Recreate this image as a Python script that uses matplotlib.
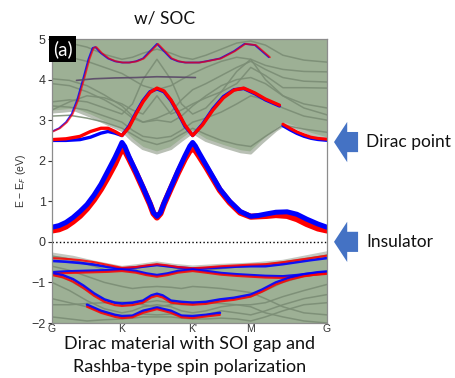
import matplotlib
matplotlib.use("Agg")
import matplotlib.pyplot as plt

# ---- high-symmetry path (positions along k) ----
kticks = [0.0, 1.0, 2.01, 2.84, 3.93]
klabels = ["G", "K", "K'", "M", "G"]

# ---- conduction pair (lowest red/blue band) ----
ck = [0, .1, .2, .3, .4, .5, .6, .7, .8, .9, .96, 1.0,
      1.04, 1.1, 1.2, 1.3, 1.4, 1.45, 1.5, 1.55, 1.6, 1.7, 1.8, 1.9, 1.97, 2.01,
      2.05, 2.1, 2.2, 2.3, 2.4, 2.54, 2.69, 2.84,
      2.95, 3.07, 3.2, 3.36, 3.5, 3.64, 3.8, 3.93]
cb_blue = [0.36, 0.40, 0.48, 0.60, 0.75, 0.92, 1.15, 1.42, 1.75, 2.08, 2.30, 2.45,
           2.35, 2.10, 1.73, 1.35, 0.95, 0.72, 0.63, 0.72, 0.95, 1.35, 1.75, 2.12, 2.36, 2.45,
           2.36, 2.20, 1.90, 1.60, 1.30, 1.00, 0.75, 0.63,
           0.65, 0.69, 0.73, 0.74, 0.68, 0.56, 0.44, 0.36]
cb_red = [0.28, 0.31, 0.38, 0.50, 0.64, 0.82, 1.04, 1.30, 1.60, 1.92, 2.15, 2.28,
          2.25, 2.05, 1.70, 1.32, 0.93, 0.70, 0.60, 0.70, 0.93, 1.32, 1.70, 2.05, 2.25, 2.30,
          2.25, 2.12, 1.85, 1.56, 1.27, 0.97, 0.72, 0.62,
          0.63, 0.64, 0.66, 0.64, 0.56, 0.44, 0.33, 0.28]

# ---- "Dirac" pair above the gap ----
dk = [0, .2, .4, .55, .7, .8, .9, 1.0, 1.1, 1.2, 1.3, 1.4, 1.5, 1.6, 1.7, 1.8, 1.9, 2.01,
      2.15, 2.3, 2.45, 2.6, 2.74, 2.9, 3.05, 3.25]
db_blue = [2.50, 2.50, 2.52, 2.58, 2.68, 2.72, 2.68, 2.62, 2.85, 3.18, 3.48, 3.70, 3.77,
           3.70, 3.48, 3.18, 2.85, 2.62, 2.90, 3.28, 3.58, 3.75, 3.78, 3.65, 3.50, 3.35]
db_red = [2.52, 2.54, 2.60, 2.72, 2.80, 2.80, 2.72, 2.62, 2.82, 3.15, 3.45, 3.68, 3.79,
          3.72, 3.50, 3.20, 2.88, 2.62, 2.88, 3.25, 3.55, 3.74, 3.79, 3.67, 3.52, 3.37]
rk = [3.3, 3.4, 3.5, 3.6, 3.7, 3.8, 3.93]
rb_blue = [2.86, 2.76, 2.67, 2.60, 2.55, 2.52, 2.50]
rb_red = [2.90, 2.80, 2.71, 2.64, 2.58, 2.55, 2.53]

# ---- higher red/blue band inside the upper continuum ----
hk = [0, .1, .2, .28, .36, .45, .52, .58, .62, .7, .8, .9, 1.0, 1.1, 1.2, 1.3, 1.4, 1.5,
      1.6, 1.7, 1.8, 1.9, 2.0, 2.1, 2.2, 2.4, 2.6, 2.75, 2.9, 3.0, 3.1]
hb = [2.72, 2.80, 2.95, 3.15, 3.50, 4.05, 4.50, 4.78, 4.80, 4.65, 4.52, 4.45, 4.42, 4.42,
      4.45, 4.52, 4.70, 4.88, 4.70, 4.52, 4.45, 4.42, 4.42, 4.42, 4.45, 4.52, 4.70, 4.88,
      4.85, 4.70, 4.55]
fk = [0.35, 0.6, 0.9, 1.2, 1.5, 1.8, 2.05]
fb = [3.98, 4.02, 4.04, 4.05, 4.07, 4.06, 4.05]

# ---- projected bulk continua (edges) ----
uk = [0, .15, .33, .55, .8, 1.0, 1.15, 1.3, 1.5, 1.7, 1.85, 2.01, 2.2, 2.45, 2.7, 2.84,
      3.0, 3.2, 3.33, 3.5, 3.7, 3.93]
upper_edge = [3.20, 3.22, 3.25, 3.10, 2.90, 2.75, 2.50, 2.30, 2.19, 2.30, 2.50, 2.70,
              2.50, 2.35, 2.22, 2.19, 2.45, 2.75, 2.90, 2.80, 2.65, 2.54]
lk = [0, .3, .6, 1.0, 1.25, 1.5, 1.75, 2.01, 2.4, 2.84, 3.3, 3.6, 3.93]
lower_edge = [-0.30, -0.38, -0.50, -0.63, -0.58, -0.52, -0.58, -0.62, -0.58, -0.55,
              -0.48, -0.38, -0.27]

# ---- grey bulk bands ----
gk = [0, 0.25, 0.5, 0.75, 1.0, 1.15, 1.3, 1.5, 1.7, 1.85, 2.01, 2.2, 2.42, 2.64, 2.84,
      3.05, 3.3, 3.6, 3.93]
grey_up = [
    [4.02, 3.98, 3.85, 3.62, 3.35, 3.10, 2.95, 3.00, 2.95, 3.10, 3.35, 3.60, 3.85, 4.00, 4.05, 3.90, 3.60, 3.40, 3.30],
    [3.25, 3.45, 3.60, 3.55, 3.40, 3.25, 3.15, 3.60, 3.15, 3.25, 3.40, 3.55, 3.70, 3.90, 4.30, 4.10, 3.80, 3.80, 3.79],
    [3.45, 3.50, 3.45, 3.30, 3.15, 3.40, 4.00, 4.50, 4.00, 3.40, 3.15, 3.30, 3.70, 4.20, 4.50, 4.00, 3.60, 3.30, 3.13],
    [4.60, 4.55, 4.45, 4.30, 4.15, 4.00, 3.85, 3.75, 3.85, 4.00, 4.15, 4.30, 4.45, 4.55, 4.50, 4.35, 4.25, 4.20, 4.19],
    [4.95, 4.90, 4.80, 4.62, 4.50, 4.55, 4.65, 4.75, 4.65, 4.55, 4.50, 4.60, 4.75, 4.90, 4.95, 4.85, 4.60, 4.48, 4.43],
    [3.10, 3.12, 3.05, 2.95, 2.80, 2.65, 2.50, 2.40, 2.50, 2.65, 2.80, 2.65, 2.50, 2.40, 2.35, 2.60, 2.88, 2.78, 2.70],
    [3.90, 3.85, 3.70, 3.50, 3.25, 3.05, 2.95, 3.05, 3.20, 3.50, 3.75, 3.90, 4.10, 4.30, 4.45, 4.25, 4.05, 3.96, 3.94],
    [3.35, 3.32, 3.25, 3.10, 2.95, 2.75, 2.60, 2.55, 2.60, 2.75, 2.95, 3.05, 3.20, 3.40, 3.60, 3.50, 3.30, 3.10, 3.00],
]
grey_dn = [
    [-0.35, -0.42, -0.55, -0.68, -0.72, -0.68, -0.62, -0.58, -0.62, -0.68, -0.72, -0.70, -0.66, -0.62, -0.60, -0.55, -0.50, -0.42, -0.33],
    [-0.80, -0.95, -1.20, -1.45, -1.55, -1.55, -1.50, -1.45, -1.50, -1.55, -1.55, -1.50, -1.45, -1.40, -1.35, -1.20, -1.00, -0.85, -0.78],
    [-1.00, -1.20, -1.45, -1.65, -1.75, -1.70, -1.60, -1.55, -1.60, -1.70, -1.75, -1.70, -1.60, -1.55, -1.55, -1.50, -1.35, -1.20, -1.05],
    [-1.40, -1.50, -1.60, -1.75, -1.85, -1.82, -1.78, -1.80, -1.78, -1.82, -1.85, -1.80, -1.70, -1.75, -1.80, -1.70, -1.55, -1.40, -1.30],
    [-1.85, -1.90, -1.95, -1.92, -1.90, -1.88, -1.85, -1.85, -1.85, -1.88, -1.90, -1.90, -1.88, -1.90, -1.95, -1.85, -1.70, -1.55, -1.50],
    [-1.55, -1.55, -1.52, -1.50, -1.48, -1.50, -1.55, -1.60, -1.55, -1.50, -1.48, -1.50, -1.52, -1.55, -1.60, -1.75, -1.85, -1.95, -2.00],
    [-0.60, -0.70, -0.85, -1.00, -1.10, -1.15, -1.12, -1.10, -1.12, -1.15, -1.10, -1.12, -1.15, -1.20, -1.25, -1.40, -1.60, -1.75, -1.80],
]

# ---- valence red/blue bands ----
vk = [0, 0.2, 0.4, 0.6, 0.8, 1.0, 1.2, 1.35, 1.5, 1.65, 1.8, 2.01, 2.2, 2.42, 2.64, 2.84,
      3.05, 3.3, 3.5, 3.7, 3.93]
v1_red = [-0.40, -0.42, -0.45, -0.50, -0.57, -0.64, -0.62, -0.58, -0.55, -0.58, -0.62, -0.65,
          -0.63, -0.60, -0.58, -0.56, -0.55, -0.50, -0.45, -0.40, -0.34]
v1_blue = [-0.47, -0.49, -0.52, -0.56, -0.62, -0.66, -0.63, -0.60, -0.57, -0.60, -0.63, -0.66,
           -0.65, -0.63, -0.61, -0.60, -0.60, -0.55, -0.50, -0.45, -0.40]
v2_blue = [-0.75, -0.73, -0.72, -0.71, -0.70, -0.68, -0.72, -0.78, -0.82, -0.78, -0.72, -0.68,
           -0.72, -0.77, -0.80, -0.82, -0.84, -0.85, -0.82, -0.78, -0.75]
v2_red = [-0.79, -0.77, -0.76, -0.75, -0.74, -0.72, -0.76, -0.82, -0.86, -0.82, -0.76, -0.72,
          -0.76, -0.81, -0.84, -0.86, -0.88, -0.89, -0.86, -0.82, -0.79]
wk = [0, 0.15, 0.3, 0.45, 0.6, 0.75, 0.9, 1.0, 1.15, 1.3, 1.42, 1.5, 1.58, 1.7, 1.85, 2.01,
      2.2, 2.4, 2.6, 2.84, 3.0, 3.2, 3.4, 3.6, 3.8, 3.93]
v3_blue = [-0.77, -0.82, -0.92, -1.08, -1.27, -1.42, -1.50, -1.52, -1.50, -1.45, -1.32, -1.28,
           -1.32, -1.45, -1.48, -1.50, -1.48, -1.42, -1.38, -1.30, -1.18, -1.00, -0.88, -0.80,
           -0.75, -0.73]
v3_red = [-0.82, -0.87, -0.98, -1.14, -1.33, -1.48, -1.56, -1.58, -1.56, -1.50, -1.37, -1.33,
          -1.37, -1.50, -1.53, -1.55, -1.53, -1.47, -1.43, -1.35, -1.23, -1.05, -0.93, -0.85,
          -0.80, -0.78]
xk = [0.5, 0.7, 0.9, 1.0, 1.15, 1.3, 1.5, 1.7, 1.85, 2.01, 2.2, 2.4]
v4_blue = [-1.55, -1.70, -1.80, -1.83, -1.82, -1.70, -1.62, -1.70, -1.82, -1.83, -1.80, -1.75]
v4_red = [-1.60, -1.75, -1.85, -1.88, -1.86, -1.75, -1.66, -1.75, -1.86, -1.88, -1.84, -1.80]

FILL = "#9db095"
GREY = "#7b8d75"
RED = "#ff0000"
BLUE = "#0000ff"

plt.rcParams["font.family"] = ["Liberation Sans", "DejaVu Sans"]
fig = plt.figure(figsize=(4.55, 3.78), dpi=100)
ax = fig.add_axes([52 / 455, 1 - 323 / 378, 275 / 455, 284 / 378])

# bulk continua
ax.fill_between(uk, upper_edge, 5, color=FILL, lw=0, zorder=1)
ax.plot(uk, upper_edge, color="#b9c0b5", lw=2.2, zorder=1)
ax.fill_between(lk, lower_edge, -2, color=FILL, lw=0, zorder=1)
ax.plot(lk, lower_edge, color="#c3c8c0", lw=2.2, zorder=1)
for e in grey_up + grey_dn:
    ax.plot(gk, e, color=GREY, lw=1.1, alpha=0.9, zorder=2)

kw = dict(solid_capstyle="round", solid_joinstyle="round", zorder=3)
# higher bands in the continuum
ax.plot(hk, hb, color=BLUE, lw=1.3, alpha=0.85, **kw)
ax.plot([k + 0.015 for k in hk], hb, color=RED, lw=1.3, alpha=0.7, **kw)
ax.plot(fk, fb, color="#5a4868", lw=1.2, alpha=0.9, **kw)
# Dirac pair
ax.plot(dk, db_blue, color=BLUE, lw=2.4, **kw)
ax.plot(dk, db_red, color=RED, lw=2.4, **kw)
ax.plot(rk, rb_blue, color=BLUE, lw=2.2, **kw)
ax.plot(rk, rb_red, color=RED, lw=2.2, **kw)
# conduction pair
ax.plot(ck, cb_red, color=RED, lw=4.4, **kw)
ax.plot(ck, cb_blue, color=BLUE, lw=3.6, **kw)
# valence pairs
for k, r, b in [(vk, v1_red, v1_blue), (vk, v2_red, v2_blue),
                (wk, v3_red, v3_blue), (xk, v4_red, v4_blue)]:
    ax.plot(k, b, color=BLUE, lw=1.9, alpha=0.9, **kw)
    ax.plot(k, r, color=RED, lw=1.5, alpha=0.85, **kw)

ax.axhline(0, color="black", ls=":", lw=1.0, zorder=4)

ax.set_xlim(kticks[0], kticks[-1])
ax.set_ylim(-2, 5)
ax.set_xticks(kticks)
ax.set_xticklabels(klabels)
ax.set_yticks(range(-2, 6))
ax.tick_params(axis="x", length=0, pad=1, labelsize=7.5, colors="#333333")
ax.tick_params(axis="y", length=3, width=0.8, pad=1.5, labelsize=9,
               colors="#333333", direction="out")
for s in ax.spines.values():
    s.set_color("#8c8c8c")
    s.set_linewidth(0.9)
    s.set_zorder(5)

ax.text(0.004, 0.996, "(a)", transform=ax.transAxes, ha="left", va="top",
        color="white", fontsize=13.5, family="Lato", zorder=6,
        bbox=dict(boxstyle="square,pad=0.2", fc="black", ec="none"))

# arrows and labels on the right
ytr = ax.get_yaxis_transform()
for y, lab in [(2.46, "Dirac point"), (0.0, "Insulator")]:
    ax.annotate("", xy=(1.0255, y), xycoords=ytr, xytext=(1.113, y), textcoords=ytr,
                annotation_clip=False,
                arrowprops=dict(arrowstyle="simple,head_length=0.95,head_width=2.9,tail_width=1.45",
                                fc="#4472c4", ec="none", shrinkA=0, shrinkB=0))
    ax.text(1.142, y, lab, transform=ytr, ha="left", va="center", fontsize=12.5,
            family="Lato", color="#111111", clip_on=False)

fig.text(165 / 455, 1 - 19 / 378, "w/ SOC", ha="center", va="center", fontsize=12.5,
         family="Lato", color="#111111")
fig.text(21 / 455, 1 - 181 / 378, "E \u2212 E$_F$ (eV)", rotation=90, ha="center",
         va="center", fontsize=7.5, color="#333333")
fig.text(190 / 455, 1 - 344 / 378, "Dirac material with SOI gap and", ha="center",
         va="center", fontsize=13, family="Lato", color="#111111")
fig.text(190 / 455, 1 - 367 / 378, "Rashba-type spin polarization", ha="center",
         va="center", fontsize=13, family="Lato", color="#111111")

fig.savefig("out.png", dpi=100)
